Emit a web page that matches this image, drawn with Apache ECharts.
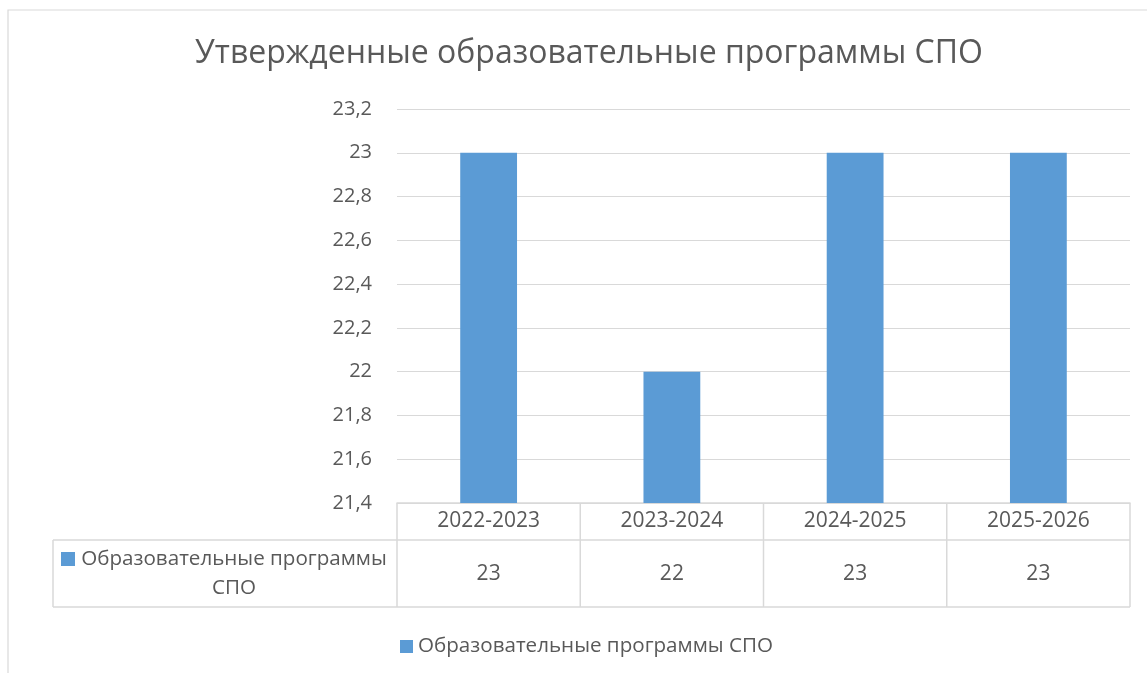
<!DOCTYPE html>
<html>
<head>
<meta charset="utf-8">
<script src="https://cdn.jsdelivr.net/npm/echarts@6/dist/echarts.min.js"></script>
<style>
  html, body { margin: 0; padding: 0; background: #fff; }
  #chart { width: 1147px; height: 673px; }
</style>
</head>
<body>
<div id="chart"></div>
<script>
const categories = ['2022-2023', '2023-2024', '2024-2025', '2025-2026'];
const values = [23, 22, 23, 23];
const seriesName = 'Образовательные программы СПО';
const chartTitle = 'Утвержденные образовательные программы СПО';
const yMin = 21.4, yMax = 23.2, yStep = 0.2;

const FONT = '"Open Sans", sans-serif';
const TEXT = '#595959';
const LINE = '#d9d9d9';
const BAR = '#5b9bd5';

const gridLeft = 397, gridRight = 17, gridTop = 109, gridBottom = 170;

const fmt = v => String(Number(v.toFixed(1))).replace('.', ',');

const chart = echarts.init(document.getElementById('chart'), null, { renderer: 'canvas' });

chart.setOption({
  animation: false,
  textStyle: { fontFamily: FONT },
  title: {
    text: chartTitle,
    left: 584,
    textAlign: 'center',
    top: 33,
    textStyle: { color: TEXT, fontSize: 32, fontWeight: 'normal', fontFamily: FONT }
  },
  legend: {
    top: 631,
    left: 395,
    icon: 'rect',
    itemWidth: 13,
    itemHeight: 13,
    itemGap: 8,
    textStyle: { color: TEXT, fontSize: 20.6, fontFamily: FONT },
    data: [seriesName]
  },
  grid: { left: gridLeft, right: gridRight, top: gridTop, bottom: gridBottom, containLabel: false },
  xAxis: {
    type: 'category',
    data: categories,
    axisLine: { show: true, lineStyle: { color: LINE, width: 1.5 } },
    axisTick: { show: false },
    axisLabel: { color: TEXT, fontSize: 21, margin: 8, fontFamily: FONT }
  },
  yAxis: {
    type: 'value',
    min: yMin,
    max: yMax,
    interval: yStep,
    axisLine: { show: false },
    axisTick: { show: false },
    axisLabel: { color: TEXT, fontSize: 20, margin: 25, fontFamily: FONT, formatter: fmt },
    splitLine: { lineStyle: { color: LINE, width: 1.2 } }
  },
  series: [{
    name: seriesName,
    type: 'bar',
    data: values,
    barWidth: '31%',
    itemStyle: { color: BAR }
  }]
});

// data table under the plot, laid out from the axis scale
const band = (chart.convertToPixel({ xAxisIndex: 0 }, 1) - chart.convertToPixel({ xAxisIndex: 0 }, 0));
const x0 = chart.convertToPixel({ xAxisIndex: 0 }, 0) - band / 2;
const x1 = x0 + band * categories.length;
const yTop = chart.convertToPixel({ yAxisIndex: 0 }, yMin);
const yMid = yTop + 37, yBot = yTop + 104;
const tableLeft = 53;
const lineStyle = { stroke: LINE, lineWidth: 1.5 };

const g = [
  { type: 'rect', shape: { x: 8, y: 10, width: 1160, height: 700 }, style: { fill: 'none', stroke: LINE, lineWidth: 1.2 }, silent: true },
  { type: 'line', shape: { x1: tableLeft, y1: yMid, x2: x1, y2: yMid }, style: lineStyle },
  { type: 'line', shape: { x1: tableLeft, y1: yBot, x2: x1, y2: yBot }, style: lineStyle },
  { type: 'line', shape: { x1: tableLeft, y1: yMid, x2: tableLeft, y2: yBot }, style: lineStyle }
];
for (let i = 0; i <= categories.length; i++) {
  const x = x0 + band * i;
  g.push({ type: 'line', shape: { x1: x, y1: yTop, x2: x, y2: yBot }, style: lineStyle });
}
values.forEach((v, i) => {
  g.push({
    type: 'text',
    style: { text: String(v), x: x0 + band * (i + 0.5), y: (yMid + yBot) / 2 + 1, align: 'center', verticalAlign: 'middle', fill: TEXT, font: '21px ' + FONT }
  });
});
const cut = seriesName.lastIndexOf(' ');
g.push({ type: 'rect', shape: { x: 61, y: 552, width: 14, height: 14 }, style: { fill: BAR } });
g.push({
  type: 'text',
  style: {
    text: seriesName.slice(0, cut) + '\n' + seriesName.slice(cut + 1),
    x: 234, y: (yMid + yBot) / 2, align: 'center', verticalAlign: 'middle',
    fill: TEXT, font: '20.6px ' + FONT, lineHeight: 29
  }
});
chart.setOption({ graphic: g });
</script>
</body>
</html>
